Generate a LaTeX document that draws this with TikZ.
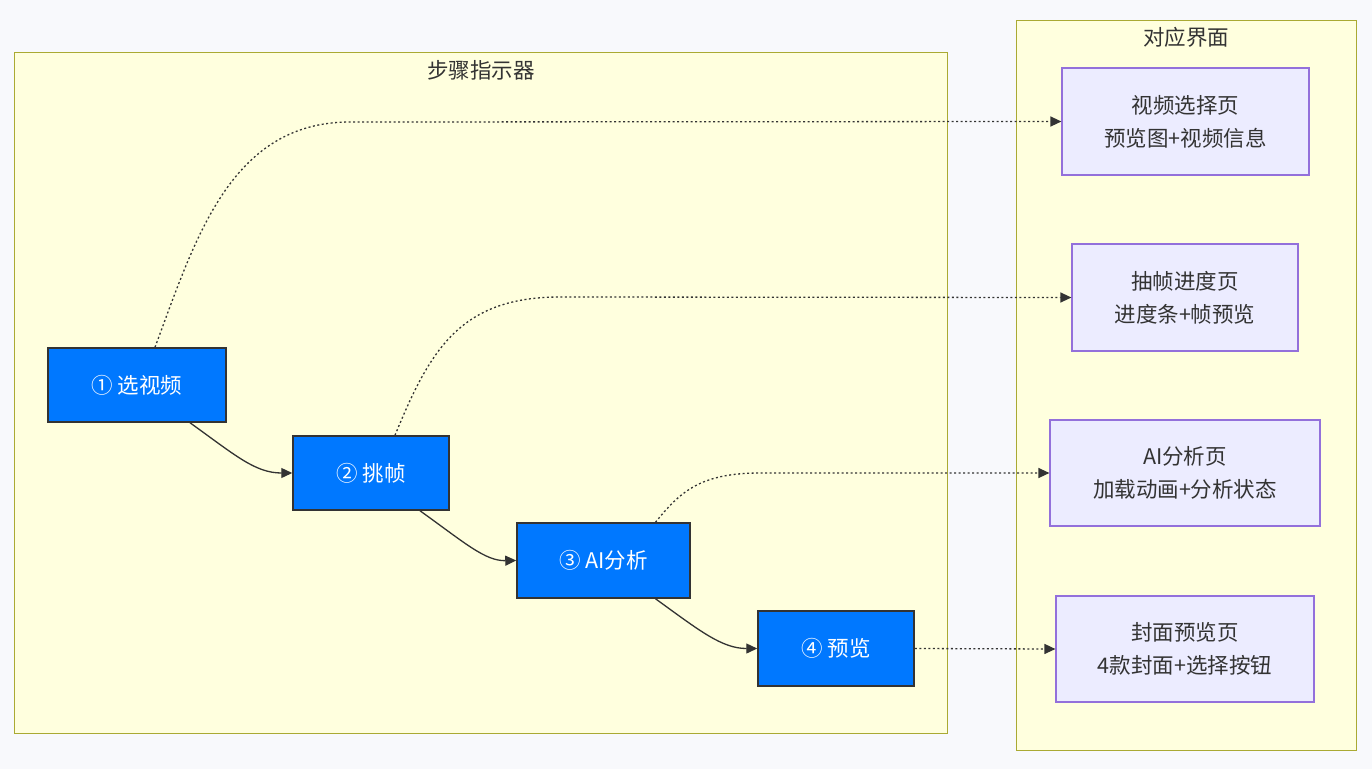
\documentclass[tikz,border=0pt]{standalone}
\usepackage{fontspec}
\setmainfont{Noto Sans CJK SC}
\usetikzlibrary{arrows.meta,calc}
\definecolor{bgc}{HTML}{F8F9FC}
\definecolor{clfill}{HTML}{FFFFDE}
\definecolor{cldraw}{HTML}{AAAA33}
\definecolor{bluefill}{HTML}{0078FF}
\definecolor{darkline}{HTML}{333333}
\definecolor{lavfill}{HTML}{ECECFF}
\definecolor{lavdraw}{HTML}{9370DB}
\tikzset{
  cluster/.style={draw=cldraw, fill=clfill, line width=1pt},
  cltitle/.style={text=darkline, font=\fontsize{21.5}{26}\selectfont, inner sep=0pt},
  stepbox/.style={draw=darkline, fill=bluefill, line width=1.5pt, text=white, inner sep=0pt,
    font=\fontsize{21.5}{26}\selectfont},
  pagebox/.style={draw=lavdraw, fill=lavfill, line width=1.2pt, text=darkline, inner sep=0pt,
    align=center, font=\fontsize{21.5}{33}\selectfont},
  flow/.style={draw=darkline, line width=1.3pt, -{Triangle[length=11pt,width=10pt]}},
  link/.style={draw=darkline, line width=1.3pt, dash pattern=on 2pt off 2.5pt, -{Triangle[length=11pt,width=10pt]}},
}
\begin{document}
\begin{tikzpicture}[x=1pt,y=-1pt]
\fill[bgc] (0,0) rectangle (1372,769);
\useasboundingbox (0,0) rectangle (1372,769);
% clusters
\draw[cluster] (14,52) rectangle (947,733);
\node[cltitle] (t1) at (481,70) {步骤指示器};
\draw[cluster] (1016,20) rectangle (1356,750);
\node[cltitle] (t2) at (1186,37) {对应界面};
% step nodes
\node[stepbox, minimum width=178pt, minimum height=74pt] (n1) at (137,385) {① 选视频};
\node[stepbox, minimum width=156pt, minimum height=74pt] (n2) at (371,473) {② 挑帧};
\node[stepbox, minimum width=173pt, minimum height=75pt] (n3) at (603.5,560.5) {③ AI分析};
\node[stepbox, minimum width=156pt, minimum height=75pt] (n4) at (836,648.5) {④ 预览};
% page nodes
\node[pagebox, minimum width=247pt, minimum height=107pt] (p1) at (1185.5,121.5) {视频选择页\\预览图+视频信息};
\node[pagebox, minimum width=226pt, minimum height=107pt] (p2) at (1185,297.5) {抽帧进度页\\进度条+帧预览};
\node[pagebox, minimum width=270pt, minimum height=106pt] (p3) at (1185,473) {AI分析页\\加载动画+分析状态};
\node[pagebox, minimum width=258pt, minimum height=106pt] (p4) at (1185,649) {封面预览页\\4款封面+选择按钮};
% solid flow
\draw[flow] ($(n1.south)+(53,0)$) .. controls (235,455) and (255,473) .. (n2.west);
\draw[flow] ($(n2.south)+(49,0)$) .. controls (465,543) and (485,561) .. (n3.west);
\draw[flow] ($(n3.south)+(52,0)$) .. controls (700,631) and (722,648.5) .. (n4.west);
% dotted links
\draw[link] ($(n1.north)+(18,0)$) .. controls (195,240) and (230,122) .. (350,122) -- (p1.west);
\draw[link] ($(n2.north)+(24,0)$) .. controls (430,350) and (460,297) .. (560,297) -- (p2.west);
\draw[link] ($(n3.north)+(52,0)$) .. controls (680,492) and (700,473) .. (760,473) -- (p3.west);
\draw[link] (n4.east) -- (p4.west);
\end{tikzpicture}
\end{document}
